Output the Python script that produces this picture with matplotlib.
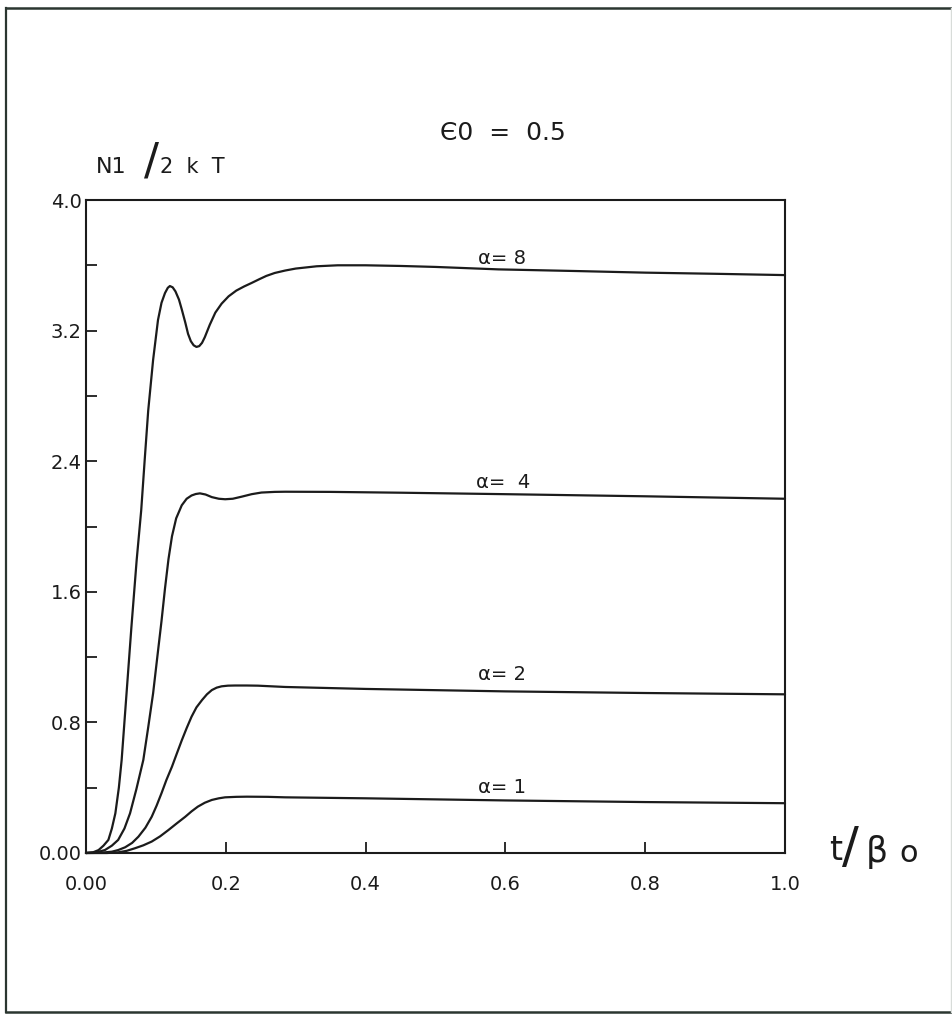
import matplotlib
matplotlib.use("Agg")
import matplotlib.pyplot as plt
from matplotlib.lines import Line2D

# ---- data ----
x_ticks = [0.0, 0.2, 0.4, 0.6, 0.8, 1.0]
x_tick_labels = ["0.00", "0.2", "0.4", "0.6", "0.8", "1.0"]
y_ticks = [0.0, 0.8, 1.6, 2.4, 3.2, 4.0]
y_tick_labels = ["0.00", "0.8", "1.6", "2.4", "3.2", "4.0"]
y_minor = [0.4, 1.2, 2.0, 2.8, 3.6]

t_a8 = [0, 0.010, 0.018, 0.025, 0.032, 0.037, 0.042, 0.047, 0.051, 0.058, 0.065, 0.0725,
        0.079, 0.084, 0.089, 0.096, 0.103, 0.108, 0.113, 0.117, 0.120, 0.124, 0.128,
        0.133, 0.137, 0.142, 0.146, 0.150, 0.154, 0.158, 0.162, 0.166, 0.170, 0.177,
        0.185, 0.194, 0.204, 0.215, 0.226, 0.237, 0.248, 0.258, 0.270, 0.285, 0.30,
        0.33, 0.36, 0.40, 0.45, 0.50, 0.59, 0.70, 0.80, 0.90, 1.0]
y_a8 = [0, 0.004, 0.018, 0.045, 0.08, 0.15, 0.243, 0.40, 0.57, 0.978, 1.386, 1.795,
        2.10, 2.41, 2.71, 3.02, 3.265, 3.37, 3.43, 3.462, 3.473, 3.465, 3.44,
        3.39, 3.33, 3.25, 3.18, 3.135, 3.11, 3.10, 3.105, 3.125, 3.16, 3.235,
        3.31, 3.365, 3.41, 3.445, 3.47, 3.492, 3.515, 3.535, 3.553, 3.568, 3.58,
        3.594, 3.60, 3.60, 3.596, 3.59, 3.575, 3.565, 3.555, 3.548, 3.54]

t_a4 = [0, 0.015, 0.027, 0.037, 0.046, 0.055, 0.063, 0.072, 0.082, 0.089, 0.096, 0.102,
        0.108, 0.113, 0.118, 0.123, 0.129, 0.137, 0.144, 0.151, 0.157, 0.163, 0.171,
        0.180, 0.190, 0.199, 0.210, 0.223, 0.237, 0.251, 0.27, 0.285, 0.35, 0.45,
        0.6, 0.8, 1.0]
y_a4 = [0, 0.004, 0.018, 0.045, 0.08, 0.15, 0.243, 0.39, 0.57, 0.77, 0.978, 1.20,
        1.42, 1.62, 1.80, 1.94, 2.05, 2.13, 2.17, 2.19, 2.199, 2.203, 2.196,
        2.18, 2.17, 2.167, 2.17, 2.183, 2.198, 2.208, 2.212, 2.213, 2.212, 2.207,
        2.198, 2.185, 2.17]

t_a2 = [0, 0.020, 0.037, 0.046, 0.056, 0.066, 0.075, 0.085, 0.094, 0.101, 0.108, 0.115,
        0.123, 0.130, 0.137, 0.144, 0.151, 0.158, 0.166, 0.173, 0.180, 0.187, 0.194,
        0.203, 0.213, 0.230, 0.246, 0.285, 0.4, 0.6, 0.8, 1.0]
y_a2 = [0, 0.001, 0.008, 0.018, 0.035, 0.062, 0.10, 0.155, 0.222, 0.29, 0.366, 0.447,
        0.529, 0.61, 0.69, 0.765, 0.835, 0.892, 0.937, 0.972, 0.998, 1.013, 1.021,
        1.025, 1.026, 1.026, 1.025, 1.017, 1.005, 0.99, 0.98, 0.972]

t_a1 = [0, 0.030, 0.046, 0.058, 0.070, 0.082, 0.094, 0.106, 0.118, 0.130, 0.142, 0.151,
        0.160, 0.170, 0.180, 0.190, 0.199, 0.215, 0.23, 0.26, 0.285, 0.4, 0.6, 0.8, 1.0]
y_a1 = [0, 0.0, 0.004, 0.013, 0.029, 0.047, 0.07, 0.102, 0.141, 0.182, 0.222, 0.255,
        0.284, 0.308, 0.325, 0.335, 0.341, 0.344, 0.345, 0.344, 0.341, 0.335, 0.322,
        0.312, 0.305]

series = [
    (t_a8, y_a8, "α= 8", 0.561, 3.585),
    (t_a4, y_a4, "α=  4", 0.558, 2.21),
    (t_a2, y_a2, "α= 2", 0.561, 1.038),
    (t_a1, y_a1, "α= 1", 0.561, 0.343),
]

INK = "#1b1b1b"
W, H = 953, 1015

fig = plt.figure(figsize=(W / 100, H / 100), dpi=100)
fig.patch.set_facecolor("white")

# outer frame of the scanned page (right edge only faint)
def fline(xs, ys, color, lw):
    fig.lines.append(Line2D([x / W for x in xs], [1 - y / H for y in ys],
                            transform=fig.transFigure, color=color, linewidth=lw))

fline([6, 953], [8, 8], "#2b3630", 1.8)
fline([6, 6], [8, 1012], "#2b3630", 1.6)
fline([6, 953], [1012, 1012], "#2b3630", 1.8)
fline([951, 951], [8, 1012], "#d8dcd9", 1.0)

ax = fig.add_axes([86 / W, 162 / H, 699 / W, 653 / H])
ax.set_xlim(0, 1.0)
ax.set_ylim(0, 4.0)

for t, y, lab, lx, ly in series:
    ax.plot(t, y, color=INK, linewidth=1.6, solid_capstyle="round", clip_on=False)
    ax.text(lx, ly, lab, fontsize=14, color=INK, ha="left", va="bottom")

for s in ax.spines.values():
    s.set_linewidth(1.5)
    s.set_color(INK)

ax.set_xticks(x_ticks)
ax.set_xticklabels(x_tick_labels)
ax.set_yticks(y_ticks)
ax.set_yticklabels(y_tick_labels)
ax.set_yticks(y_minor, minor=True)
ax.tick_params(axis="both", which="both", direction="in", length=8, width=1.3, color=INK,
               labelsize=14, labelcolor=INK)
ax.tick_params(axis="x", pad=16)
ax.tick_params(axis="y", pad=3)

# axis labels and title as figure text
def ftext(x, y, s, size, **kw):
    fig.text(x / W, 1 - y / H, s, fontsize=size, color=INK, **kw)

ftext(503, 133, "Є0  =  0.5", 18, ha="center", va="center")
ftext(96, 167, "N1", 16, ha="left", va="center")
ftext(151, 162, "/", 32, ha="center", va="center")
ftext(160, 167, "2  k  T", 15, ha="left", va="center")
ftext(836, 851, "t", 24, ha="center", va="center")
ftext(850, 848, "/", 36, ha="center", va="center")
ftext(866, 852, "β", 25, ha="left", va="center")
ftext(899, 853, "o", 22, ha="left", va="center")

fig.savefig("out.png", dpi=100, facecolor="white")
